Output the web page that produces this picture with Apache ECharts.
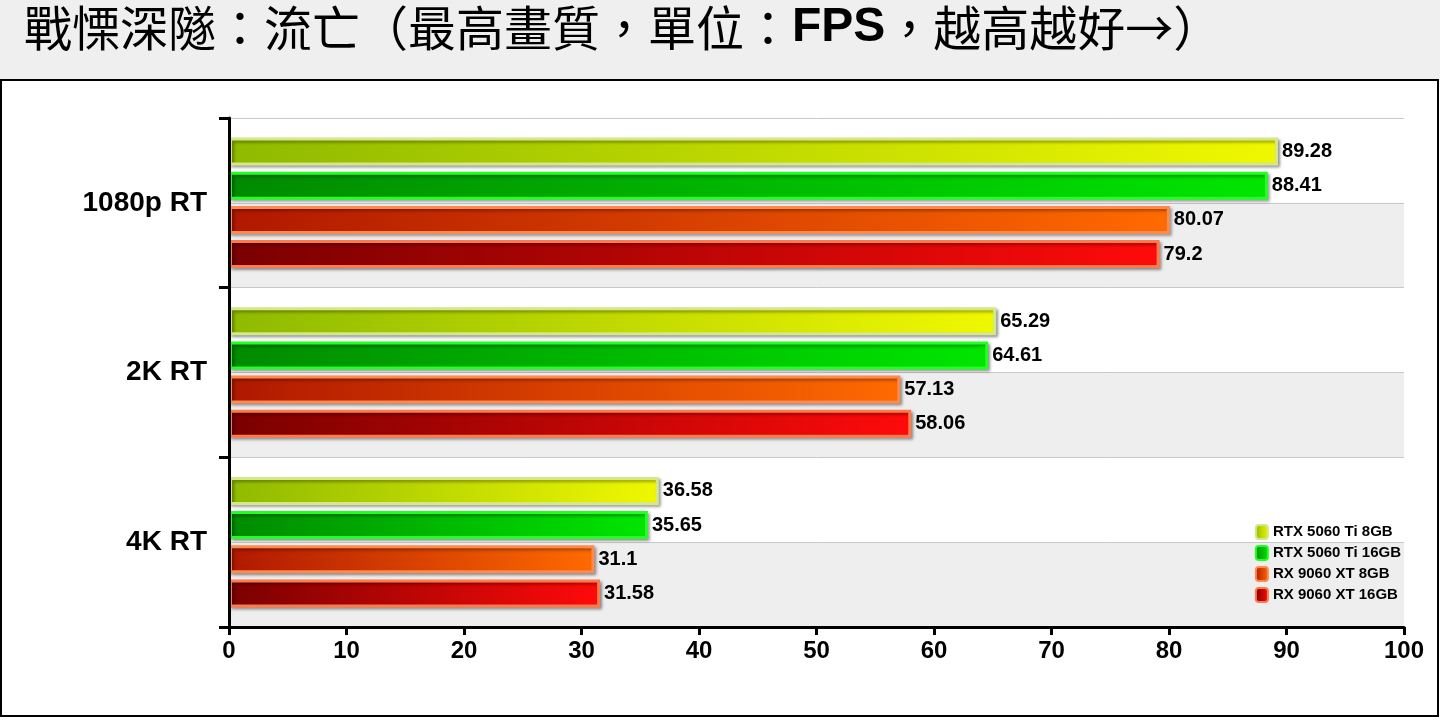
<!DOCTYPE html>
<html><head><meta charset="utf-8">
<script src="https://cdn.jsdelivr.net/npm/echarts@6/dist/echarts.min.js"></script>
<style>html,body{margin:0;padding:0;background:#fff}#c{width:1440px;height:720px}</style>
</head><body><div id="c"></div>
<script>
const categories = ['1080p RT', '2K RT', '4K RT'];
const seriesNames = ['RTX 5060 Ti 8GB', 'RTX 5060 Ti 16GB', 'RX 9060 XT 8GB', 'RX 9060 XT 16GB'];
const rtx8 = [89.28, 65.29, 36.58];
const rtx16 = [88.41, 64.61, 35.65];
const rx8 = [80.07, 57.13, 31.1];
const rx16 = [79.2, 58.06, 31.58];
const xTicks = [0, 10, 20, 30, 40, 50, 60, 70, 80, 90, 100];

const styles = [
  {c0:'#8fba00', c1:'#f0f800', b:'#d4e88a'},
  {c0:'#008a00', c1:'#00e600', b:'#22ff22'},
  {c0:'#b01800', c1:'#ff6a00', b:'#ff8a50'},
  {c0:'#7a0000', c1:'#ff0a0a', b:'#ff7a4a'}
];
const data = [rtx8, rtx16, rx8, rx16];
const grad = s => new echarts.graphic.LinearGradient(0,0,1,0,[{offset:0,color:s.c0},{offset:1,color:s.c1}]);

const chart = echarts.init(document.getElementById('c'));
chart.setOption({
  animation:false,
  backgroundColor:'#fff',
  graphic:[
    {type:'rect', shape:{x:0,y:0,width:1440,height:80}, style:{fill:'#efefef'}, z:-10},
    {type:'rect', shape:{x:1,y:80,width:1437,height:636}, style:{fill:'none',stroke:'#000',lineWidth:2}, z:-10},
    {type:'text', left:24, top:4, style:{rich:{
      a:{font:'48px "Noto Sans CJK TC"', fill:'#000'},
      b:{font:'bold 48px "Liberation Sans", Arial', fill:'#000'}
    }, text:'{a|戰慄深隧：流亡（最高畫質，單位：}{b|FPS}{a|，越高越好→）}'}}
  ],
  legend:{
    orient:'vertical', right:34, top:519, itemWidth:12, itemHeight:14, itemGap:5,
    textStyle:{fontFamily:'Liberation Sans, Arial', fontWeight:'bold', fontSize:15, color:'#000'},
    data: seriesNames
  },
  grid:{left:229, right:36, top:118, bottom:93},
  xAxis:{type:'value', min:0, max:100, interval:10,
    axisLine:{show:true, lineStyle:{color:'#000', width:3}},
    axisTick:{show:true, length:8, lineStyle:{color:'#000', width:3}},
    splitLine:{show:false},
    axisLabel:{fontSize:24, fontWeight:'bold', color:'#000', fontFamily:'Liberation Sans, Arial', margin:12}
  },
  yAxis:[
    {type:'category', data:categories, inverse:true,
     axisLine:{show:true, lineStyle:{color:'#000', width:3}},
     axisTick:{show:true, length:10, inside:false, lineStyle:{color:'#000', width:3}},
     axisLabel:{fontSize:28, fontWeight:'bold', color:'#000', fontFamily:'Liberation Sans, Arial', margin:22},
     z:5},
    {type:'category', data:['a','b','c','d','e','f'], position:'left', inverse:true,
     axisLine:{show:false}, axisTick:{show:false}, axisLabel:{show:false},
     splitLine:{show:true, lineStyle:{color:'#c8c8c8', width:1}},
     splitArea:{show:true, areaStyle:{color:['#ffffff','#eeeeee']}}}
  ],
  series: seriesNames.map((n,i)=>({
    name:n, type:'bar', yAxisIndex:0, data:data[i],
    barWidth:28, barGap:'22%',
    itemStyle:{color:grad(styles[i]), borderColor:styles[i].b, borderWidth:3,
      shadowColor:'rgba(0,0,0,0.35)', shadowBlur:3, shadowOffsetX:2, shadowOffsetY:2},
    label:{show:true, position:'right', distance:4, color:'#000', fontSize:20, fontWeight:'bold', fontFamily:'Liberation Sans, Arial'}
  }))
});
</script></body></html>
